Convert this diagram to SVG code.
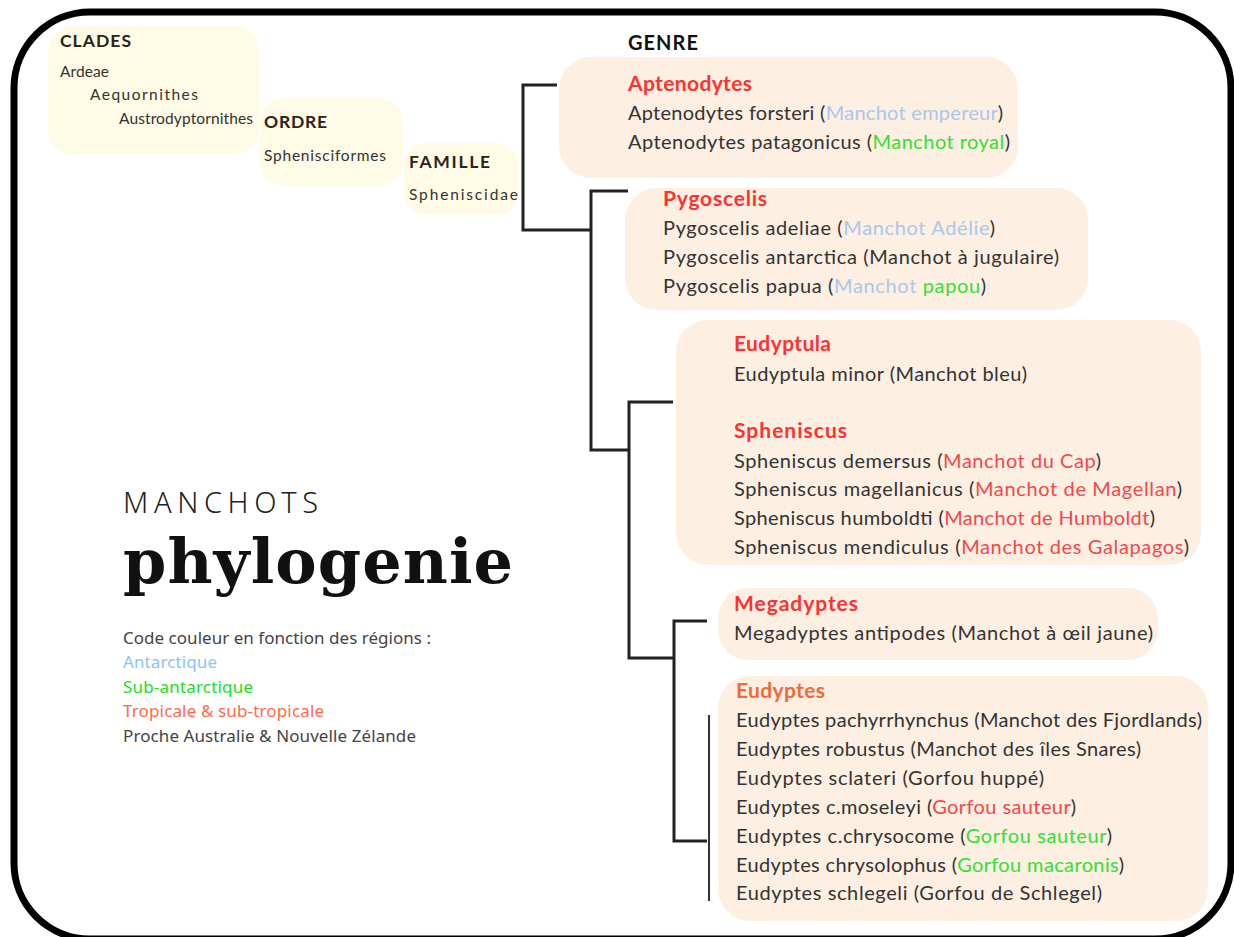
<svg xmlns="http://www.w3.org/2000/svg" width="1234" height="937" viewBox="0 0 1234 937">
<style>
text{font-family:Lato,"Noto Sans",sans-serif;fill:#333}
.h{font-weight:bold;font-size:17.5px;fill:#2a2418}
.s{font-size:15.5px}
.g{font-weight:bold;font-size:21px;fill:#ff3131}
.t{font-size:20px}
.b{fill:#a8c8ec}
.gr{fill:#33e033}
.r{fill:#f4474a}
.yb{fill:#fffbe6}
.pb{fill:#fdefe2}
.ln{fill:none;stroke:#222;stroke-width:3}
.lg{font-family:"Noto Sans",sans-serif;font-size:17px;fill:#444}
</style>
<rect x="14" y="12" width="1217" height="927" rx="76" fill="#fff" stroke="#000" stroke-width="7"/>

<g id="clades">
<rect class="yb" x="48" y="25" width="211" height="130" rx="26"/>
<text class="h" x="60" y="47" textLength="71">CLADES</text>
<text class="s" x="60" y="77" textLength="49">Ardeae</text>
<text class="s" x="90" y="100" textLength="108">Aequornithes</text>
<text class="s" x="119" y="124" textLength="134">Austrodyptornithes</text>
</g>
<g id="ordre">
<rect class="yb" x="260" y="98" width="143" height="88" rx="24"/>
<text class="h" x="264" y="128" textLength="63">ORDRE</text>
<text class="s" x="264" y="161" textLength="122">Sphenisciformes</text>
</g>
<g id="famille">
<rect class="yb" x="404" y="143" width="115" height="72" rx="22"/>
<text class="h" x="409" y="168" textLength="81">FAMILLE</text>
<text class="s" x="409" y="200" textLength="109">Spheniscidae</text>
</g>

<text x="628" y="50" textLength="70" style="font-weight:bold;font-size:20px;fill:#111">GENRE</text>

<g id="connectors">
<path class="ln" d="M557 85H523V230H591"/>
<path class="ln" d="M628 191H591V450H628"/>
<path class="ln" d="M673 402H629V658H674"/>
<path class="ln" d="M707 621H674V841H707"/>
<path d="M709 715V901" fill="none" stroke="#333" stroke-width="2"/>
</g>

<g id="aptenodytes">
<rect class="pb" x="559" y="57" width="459" height="121" rx="32"/>
<text class="g" x="628" y="91" textLength="124">Aptenodytes</text>
<text class="t" x="628" y="120" textLength="375">Aptenodytes forsteri (<tspan class="b">Manchot empereur</tspan>)</text>
<text class="t" x="628" y="149" textLength="382">Aptenodytes patagonicus (<tspan class="gr">Manchot royal</tspan>)</text>
</g>

<g id="pygoscelis">
<rect class="pb" x="625" y="188" width="463" height="122" rx="32"/>
<text class="g" x="663" y="206" textLength="104">Pygoscelis</text>
<text class="t" x="663" y="235" textLength="332">Pygoscelis adeliae (<tspan class="b">Manchot Adélie</tspan>)</text>
<text class="t" x="663" y="264" textLength="396">Pygoscelis antarctica (Manchot à jugulaire)</text>
<text class="t" x="663" y="293" textLength="323">Pygoscelis papua (<tspan class="b">Manchot</tspan> <tspan class="gr">papou</tspan>)</text>
</g>

<g id="eudyptula-spheniscus">
<rect class="pb" x="676" y="320" width="525" height="245" rx="32"/>
<text class="g" x="734" y="351" textLength="97">Eudyptula</text>
<text class="t" x="734" y="381" textLength="293">Eudyptula minor (Manchot bleu)</text>
<text class="g" x="734" y="438" textLength="113">Spheniscus</text>
<text class="t" x="734" y="468" textLength="367">Spheniscus demersus (<tspan class="r">Manchot du Cap</tspan>)</text>
<text class="t" x="734" y="496" textLength="448">Spheniscus magellanicus (<tspan class="r">Manchot de Magellan</tspan>)</text>
<text class="t" x="734" y="525" textLength="421">Spheniscus humboldti (<tspan class="r">Manchot de Humboldt</tspan>)</text>
<text class="t" x="734" y="554" textLength="455">Spheniscus mendiculus (<tspan class="r">Manchot des Galapagos</tspan>)</text>
</g>

<g id="megadyptes">
<rect class="pb" x="718" y="588" width="440" height="72" rx="30"/>
<text class="g" x="734" y="611" textLength="124">Megadyptes</text>
<text class="t" x="734" y="640" textLength="419">Megadyptes antipodes (Manchot à œil jaune)</text>
</g>

<g id="eudyptes">
<rect class="pb" x="718" y="676" width="490" height="245" rx="32"/>
<text class="g" x="736" y="698" textLength="89" style="fill:#f26a3c">Eudyptes</text>
<text class="t" x="736" y="727" textLength="466">Eudyptes pachyrrhynchus (Manchot des Fjordlands)</text>
<text class="t" x="736" y="756" textLength="405">Eudyptes robustus (Manchot des îles Snares)</text>
<text class="t" x="736" y="785" textLength="308">Eudyptes sclateri  (Gorfou huppé)</text>
<text class="t" x="736" y="814" textLength="340">Eudyptes c.moseleyi (<tspan class="r">Gorfou sauteur</tspan>)</text>
<text class="t" x="736" y="843" textLength="376">Eudyptes c.chrysocome  (<tspan class="gr">Gorfou sauteur</tspan>)</text>
<text class="t" x="736" y="872" textLength="388">Eudyptes chrysolophus (<tspan class="gr">Gorfou macaronis</tspan>)</text>
<text class="t" x="736" y="900" textLength="366">Eudyptes schlegeli (Gorfou de Schlegel)</text>
</g>

<g id="title">
<text x="123" y="513" textLength="195" style="font-family:'Noto Sans',sans-serif;font-weight:300;font-size:29px;fill:#222">MANCHOTS</text>
<text x="123" y="583" textLength="390" style="font-family:'DejaVu Serif',serif;font-weight:bold;font-size:62px;fill:#111">phylogenie</text>
<text class="lg" x="123" y="644" textLength="308">Code couleur en fonction des régions :</text>
<text class="lg" x="123" y="668" textLength="94" style="fill:#8ec3f5">Antarctique</text>
<text class="lg" x="123" y="693" textLength="130" style="fill:#22dd22">Sub-antarctique</text>
<text class="lg" x="123" y="717" textLength="201" style="fill:#ff6b4a">Tropicale &amp; sub-tropicale</text>
<text class="lg" x="123" y="742" textLength="293">Proche Australie &amp; Nouvelle Zélande</text>
</g>
</svg>
